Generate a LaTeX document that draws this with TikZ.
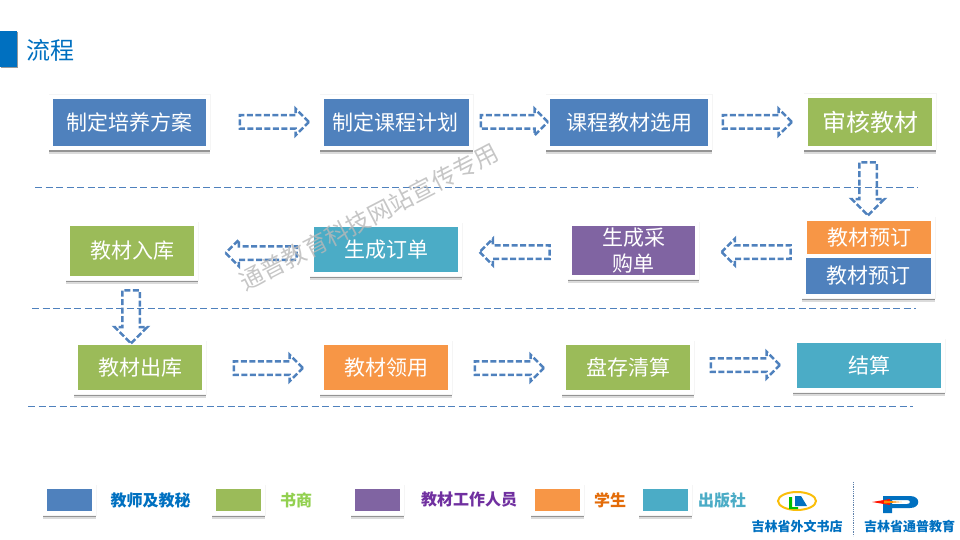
\documentclass[tikz,border=0pt]{standalone}
\usepackage{fontspec}
\setmainfont{Noto Sans CJK SC}
\usepackage{tikz}
\usetikzlibrary{arrows.meta,positioning,shadows,shapes.arrows}

\definecolor{flowblue}{HTML}{4F81BD}
\definecolor{flowgreen}{HTML}{9BBB59}
\definecolor{flowpurple}{HTML}{8064A2}
\definecolor{floworange}{HTML}{F79646}
\definecolor{flowteal}{HTML}{4BACC6}
\definecolor{titleblue}{HTML}{0070C0}
\definecolor{markgray}{HTML}{B8B8B8}

\tikzset{
  softshadow/.style={
    preaction={draw=black!14,fill=black!14,line width=4.6pt,transform canvas={yshift=-3.4pt}},
    preaction={draw=black!42,fill=black!42,line width=3.6pt,transform canvas={yshift=-2.6pt}},
    preaction={draw=black!4,line width=5pt}},
  flowbox/.style={rectangle,softshadow,draw=white,line width=4pt,inner sep=0pt,text=white,align=center,
    font=\fontsize{21}{26}\selectfont},
  swatch/.style={rectangle,softshadow,draw=white,line width=4pt,inner sep=0pt,minimum width=49,minimum height=26},
  legendtext/.style={inner sep=0pt,font=\fontsize{16}{18}\selectfont\bfseries},
  blockarrow/.style={single arrow,draw=flowblue,line width=2.5pt,dash pattern=on 6pt off 2.5pt,
    inner sep=0pt,text width=0pt,text height=5.5pt,text depth=5.5pt,minimum width=25,minimum height=69,
    single arrow head extend=6.5pt,single arrow head indent=0pt},
  tallarrow/.style={blockarrow,rotate=-90,text height=7.5pt,text depth=7.5pt,minimum width=31,minimum height=53,
    single arrow head extend=7.5pt},
  sepline/.style={draw=flowblue,line width=0.8pt,dash pattern=on 7pt off 3.5pt},
  logotext/.style={inner sep=0pt,text=titleblue,font=\fontsize{13}{15}\selectfont\bfseries},
}

\begin{document}
\begin{tikzpicture}[x=1pt,y=1pt,yscale=-1]
  \useasboundingbox (0,0) rectangle (960,540);

  % title
  \fill [titleblue,drop shadow={shadow xshift=1pt,shadow yshift=-1.5pt,opacity=0.4,fill=black}] (0,31) rectangle (17,67);
  \node (title) [inner sep=0pt,text=titleblue,font=\fontsize{24}{28}\selectfont] at (50,50) {流程};

  % separators
  \coordinate (sepA) at (35,187);   \coordinate (sepAend) at (918,187);
  \coordinate (sepB) at (32,308);   \coordinate (sepBend) at (916,308);
  \coordinate (sepC) at (28,406);   \coordinate (sepCend) at (913,406);
  \draw [sepline] (sepA) -- (sepAend);
  \draw [sepline] (sepB) -- (sepBend);
  \draw [sepline] (sepC) -- (sepCend);

  % first row
  \node (plan) [flowbox,fill=flowblue,minimum width=157,minimum height=51] at (129.5,122.5) {制定培养方案};
  \node (course) [flowbox,fill=flowblue,minimum width=149,minimum height=51] at (396.5,122.5) {\kern-1.5pt制定课程计划};
  \node (select) [flowbox,fill=flowblue,minimum width=162,minimum height=51] at (629,122.5) {课程教材选用};
  \node (review) [flowbox,fill=flowgreen,minimum width=128,minimum height=52,font=\fontsize{24}{28}\selectfont] at (870,122) {审核教材};

  % second row
  \node (stock) [flowbox,fill=flowgreen,minimum width=128,minimum height=54] at (132,251) {教材入库};
  \node (order) [flowbox,fill=flowteal,minimum width=148,minimum height=49] at (386,249.5) {生成订单};
  \node (purchase) [flowbox,fill=flowpurple,minimum width=127,minimum height=53] at (633.5,250.5) {生成采\\购单};
  \node (bookA) [flowbox,fill=floworange,minimum width=128,minimum height=37] at (869,237.5) {\raisebox{-1.5pt}{教材预订}};
  \node (bookB) [flowbox,fill=flowblue,minimum width=129,minimum height=40] at (868.5,276) {\raisebox{-1.5pt}{教材预订}};

  % third row
  \node (out) [flowbox,fill=flowgreen,minimum width=128,minimum height=49] at (140,367.5) {教材出库};
  \node (take) [flowbox,fill=floworange,minimum width=128,minimum height=49] at (386,367.5) {教材领用};
  \node (count) [flowbox,fill=flowgreen,minimum width=128,minimum height=49] at (628,367.5) {盘存清算};
  \node (settle) [flowbox,fill=flowteal,minimum width=148,minimum height=49] at (869,365.5) {结算};

  % arrows
  \node (arrA) [blockarrow] at (271,122) {};
  \node (arrB) [blockarrow,minimum height=67] at (511,122) {};
  \node (arrC) [blockarrow] at (754,122) {};
  \node (arrD) [tallarrow] at (868,184.5) {};
  \node (arrE) [blockarrow,rotate=180] at (759.5,252) {};
  \node (arrF) [blockarrow,rotate=180,minimum height=70] at (518,252) {};
  \node (arrG) [blockarrow,rotate=180,minimum height=71] at (264.5,253) {};
  \node (arrH) [tallarrow] at (131,312.5) {};
  \node (arrI) [blockarrow] at (265,368) {};
  \node (arrJ) [blockarrow] at (506,368) {};
  \node (arrK) [blockarrow] at (742,365) {};

  % legend
  \node (keyA) [swatch,fill=flowblue] at (69.5,500) {};
  \node (keyB) [swatch,fill=flowgreen] at (238.5,500) {};
  \node (keyC) [swatch,fill=flowpurple] at (377.5,500) {};
  \node (keyD) [swatch,fill=floworange] at (557.5,500) {};
  \node (keyE) [swatch,fill=flowteal] at (665.5,500) {};
  \node (nameA) [legendtext,text=titleblue] at (150.5,500) {教师及教秘};
  \node (nameB) [legendtext,text={rgb,255:red,146;green,208;blue,80}] at (296,500) {书商};
  \node (nameC) [legendtext,text={rgb,255:red,112;green,48;blue,160}] at (469,500) {教材工作人员};
  \node (nameD) [legendtext,text={rgb,255:red,227;green,108;blue,9}] at (610,500) {学生};
  \node (nameE) [legendtext,text=flowteal] at (722,500) {出版社};

  % logos
  \draw [draw={rgb,255:red,250;green,190;blue,10},line width=2pt] (797,501) ellipse (19 and 9);
  \fill [green!75!black] (789,497) -- (792,497) -- (792,507) -- (798,507) -- (798,509) -- (789,509) -- cycle;
  \fill [titleblue] (795,496) -- (801,496) -- (807,506) -- (795,506) -- cycle;
  \node (shopname) [logotext] at (797,526) {吉林省外文书店};
  \draw [draw=flowblue!70!gray,line width=0.8pt,densely dotted] (853,482) -- (853,536);
  \fill [titleblue,even odd rule] (883,496) -- (910,496) .. controls (921,496) and (921,508) .. (910,508)
    -- (892,508) -- (892,513) -- (883,513) -- cycle
    (892,500) -- (907,500) .. controls (911,500) and (911,504) .. (907,504) -- (892,504) -- cycle;
  \fill [red!85!orange] (872,502) -- (890,499) -- (890,505) -- cycle;
  \fill [orange!90!yellow] (884,500.5) -- (902,502) -- (884,503.5) -- cycle;
  \node (schoolname) [logotext] at (909.5,526) {吉林省通普教育};

  % watermark
  \node (mark) [inner sep=0pt,text=markgray,opacity=0.8,rotate=27.4,font=\fontsize{24}{28}\selectfont] at (369,217) {通普教育科技网站宣传专用};
\end{tikzpicture}
\end{document}
